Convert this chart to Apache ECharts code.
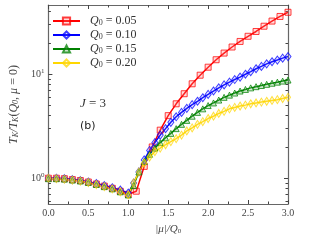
<!DOCTYPE html>
<html><head><meta charset="utf-8">
<script src="https://cdn.jsdelivr.net/npm/echarts@6/dist/echarts.min.js"></script>
<style>html,body{margin:0;padding:0;background:#fff}#c{width:320px;height:240px}</style>
</head><body><div id="c"></div>
<script>
const seriesNames = ['Q0 = 0.05','Q0 = 0.10','Q0 = 0.15','Q0 = 0.20'];
const legendValues = ['0.05','0.10','0.15','0.20'];
const xTickLabels = ['0.0','0.5','1.0','1.5','2.0','2.5','3.0'];
const yMajorTicks = [1, 10];
const yMinorTicks = [0.6,0.7,0.8,0.9,2,3,4,5,6,7,8,9,20,30,40];

const xLow = [0,0.1,0.2,0.3,0.4,0.5,0.6,0.7,0.8,0.9,1.0];
const redLow = [1.0,1.0,0.99,0.97,0.95,0.92,0.88,0.84,0.80,0.75,0.70];
const blueLow = [1.0,1.0,0.99,0.97,0.95,0.92,0.89,0.85,0.81,0.77,0.72];
const greenLow = [0.99,0.99,0.98,0.96,0.94,0.91,0.87,0.83,0.79,0.74,0.69];
const yellowLow = [1.0,0.99,0.98,0.96,0.94,0.91,0.87,0.83,0.79,0.74,0.69];

const xRedHigh = [1.1,1.2,1.3,1.4,1.5,1.6,1.7,1.8,1.9,2.0,2.1,2.2,2.3,2.4,2.5,2.6,2.7,2.8,2.9,3.0];
const redHigh = [0.75,1.3,2.0,2.9,4.0,5.2,6.5,8.1,9.8,11.7,13.8,16.0,18.3,20.7,23.2,25.8,29.0,32.5,36.0,39.5];

const xHigh = [1.067,1.133,1.2,1.267,1.333,1.4,1.467,1.533,1.6,1.667,1.733,1.8,1.867,1.933,2.0,2.067,2.133,2.2,2.267,2.333,2.4,2.467,2.533,2.6,2.667,2.733,2.8,2.867,2.933,3.0];
const blueHigh = [0.9,1.15,1.5,1.85,2.2,2.6,3.0,3.45,3.9,4.3,4.7,5.1,5.5,5.95,6.4,6.9,7.4,7.9,8.4,8.9,9.4,10.0,10.6,11.3,11.9,12.6,13.2,13.7,14.3,14.8];
const greenHigh = [0.85,1.15,1.45,1.7,1.95,2.2,2.45,2.7,3.0,3.3,3.6,3.95,4.3,4.65,5.0,5.3,5.65,6.0,6.3,6.6,6.9,7.15,7.4,7.6,7.8,8.0,8.2,8.4,8.6,8.8];
const yellowHigh = [0.9,1.15,1.4,1.6,1.8,1.95,2.1,2.25,2.4,2.6,2.85,3.05,3.3,3.5,3.75,3.95,4.2,4.4,4.65,4.8,4.95,5.05,5.2,5.3,5.4,5.5,5.6,5.7,5.85,6.0];

function zip(xs, ys){ return xs.map((x,i)=>[x, ys[i]]); }
const serif = 'Liberation Serif';
const axisColor = '#666';
const chart = echarts.init(document.getElementById('c'), null, {renderer:'canvas'});

function mkSeries(name, color, fill, symbol, size, data){
  return {
    name, type:'line', data, xAxisIndex:0, yAxisIndex:0,
    symbol, symbolSize:size, showSymbol:true,
    lineStyle:{color, width:1.5},
    itemStyle:{color:fill, borderColor:color, borderWidth:1, opacity:0.75},
    emphasis:{disabled:true}, animation:false, clip:true
  };
}

const yBase = {type:'log', min:0.565, max:46.4, logBase:10, splitLine:{show:false}, axisLine:{show:false}};
const grid = {left:42, right:32, top:5, bottom:34};

chart.setOption({
  animation:false,
  grid,
  legend:{
    data:seriesNames, orient:'vertical', left:52, top:15, padding:0,
    itemWidth:27, itemHeight:9, itemGap:2,
    formatter:(n)=>'{q|Q}{s|0}{t| = '+legendValues[seriesNames.indexOf(n)]+'}',
    textStyle:{fontFamily:serif, fontSize:12, color:'#333',
      rich:{q:{fontStyle:'italic',fontFamily:serif,fontSize:12,padding:[0,0,0,5]}, s:{fontFamily:serif,fontSize:8,padding:[4,0,0,0]}, t:{fontFamily:serif,fontSize:12}}}
  },
  xAxis:[
    {type:'value', min:0, max:3, interval:0.5, position:'bottom',
     axisLine:{show:true, onZero:false, lineStyle:{color:axisColor, width:1.2}},
     axisTick:{show:true, inside:true, length:4, lineStyle:{color:'#444'}},
     minorTick:{show:true, splitNumber:2, length:2.5, lineStyle:{color:'#444'}},
     splitLine:{show:false},
     axisLabel:{fontFamily:serif, fontSize:10, color:'#444', margin:4, formatter:(v)=>xTickLabels[Math.round(v*2)]},
     name:'{a||μ|/}{q|Q}{s|0}', nameLocation:'middle', nameGap:20,
     nameTextStyle:{fontFamily:serif, fontSize:11, color:'#444', rich:{a:{fontStyle:'italic',fontFamily:serif,fontSize:11,color:'#444'}, q:{fontStyle:'italic',fontFamily:serif,fontSize:11,color:'#444'}, s:{fontFamily:serif,fontSize:7,color:'#444',padding:[4,0,0,0]}}}
    },
    {type:'value', min:0, max:3, interval:0.5, position:'top',
     axisLine:{show:true, onZero:false, lineStyle:{color:axisColor, width:1.2}},
     axisTick:{show:true, inside:true, length:4, lineStyle:{color:'#444'}},
     minorTick:{show:true, splitNumber:2, length:2.5, lineStyle:{color:'#444'}},
     splitLine:{show:false}, axisLabel:{show:false}}
  ],
  yAxis:[
    Object.assign({}, yBase, {position:'left',
      axisLine:{show:true, lineStyle:{color:axisColor, width:1.2}},
      axisTick:{show:true, inside:true, length:4, customValues:yMajorTicks, lineStyle:{color:'#444'}},
      axisLabel:{customValues:yMajorTicks, fontFamily:serif, fontSize:10, color:'#444', margin:4,
        formatter:(v)=> '10{s|'+Math.round(Math.log10(v))+'}',
        rich:{s:{fontFamily:serif, fontSize:7, color:'#444', padding:[0,0,7,0]}}},
      name:'{t|T}{s|K}{t|/T}{s|K}{n|(}{t|Q}{s|0}{n|, }{t|μ}{n| = 0)}', nameLocation:'middle', nameGap:27, nameRotate:90,
      nameTextStyle:{fontFamily:serif, fontSize:12, color:'#444',
        rich:{t:{fontStyle:'italic',fontFamily:serif,fontSize:12,color:'#444'}, n:{fontFamily:serif,fontSize:12,color:'#444'}, s:{fontStyle:'italic',fontFamily:serif,fontSize:8,color:'#444',padding:[4,0,0,0]}}}
    }),
    Object.assign({}, yBase, {position:'left',
      axisTick:{show:true, inside:true, length:2.5, customValues:yMinorTicks, lineStyle:{color:'#444'}},
      axisLabel:{show:false}}),
    Object.assign({}, yBase, {position:'right',
      axisLine:{show:true, lineStyle:{color:axisColor, width:1.2}},
      axisTick:{show:true, inside:true, length:4, customValues:yMajorTicks, lineStyle:{color:'#444'}},
      axisLabel:{show:false}}),
    Object.assign({}, yBase, {position:'right',
      axisTick:{show:true, inside:true, length:2.5, customValues:yMinorTicks, lineStyle:{color:'#444'}},
      axisLabel:{show:false}})
  ],
  graphic:[
    {type:'text', left:80, top:97, style:{text:'{t|J} = 3', fontFamily:serif, fontSize:13, fill:'#333',
      rich:{t:{fontStyle:'italic', fontFamily:serif, fontSize:13, fill:'#333'}}}},
    {type:'text', left:80, top:121, style:{text:'(b)', fontFamily:'DejaVu Sans', fontSize:11, fill:'#222'}}
  ],
  series:[
    mkSeries(seriesNames[0], '#ff0000', 'rgba(255,120,120,0.35)', 'rect', 6, zip(xLow, redLow).concat(zip(xRedHigh, redHigh))),
    mkSeries(seriesNames[1], '#0000ff', 'rgba(120,120,255,0.25)', 'diamond', [6,8], zip(xLow, blueLow).concat(zip(xHigh, blueHigh))),
    mkSeries(seriesNames[2], '#008000', 'rgba(100,180,100,0.4)', 'triangle', 6, zip(xLow, greenLow).concat(zip(xHigh, greenHigh))),
    mkSeries(seriesNames[3], '#ffd700', 'rgba(255,230,120,0.35)', 'diamond', [5,8], zip(xLow, yellowLow).concat(zip(xHigh, yellowHigh)))
  ]
});
</script></body></html>
